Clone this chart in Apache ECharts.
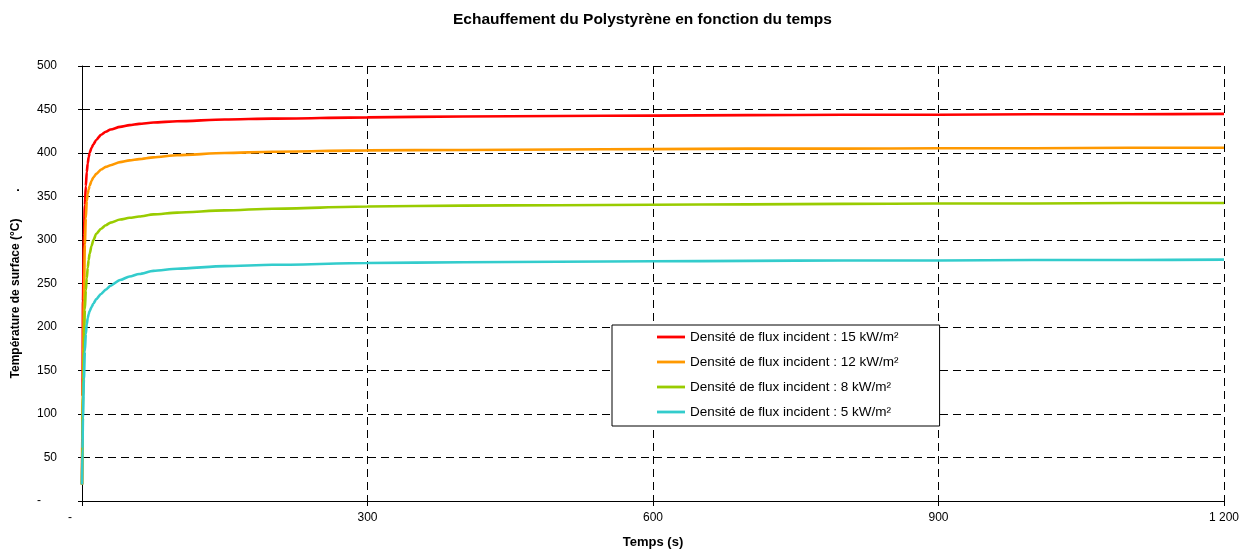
<!DOCTYPE html>
<html>
<head>
<meta charset="utf-8">
<script src="https://cdn.jsdelivr.net/npm/echarts@6/dist/echarts.min.js"></script>
<style>
html,body{margin:0;padding:0;background:#fff;}
#c{width:1242px;height:554px;}
</style>
</head>
<body>
<div id="c"></div>
<script>
var titleText = 'Echauffement du Polystyrène en fonction du temps';
var xName = 'Temps (s)';
var yName = 'Température de surface (°C)        .';
var seriesNames = [
  'Densité de flux incident : 15 kW/m²',
  'Densité de flux incident : 12 kW/m²',
  'Densité de flux incident : 8 kW/m²',
  'Densité de flux incident : 5 kW/m²'
];
var seriesColors = ['#ff0000', '#ff9900', '#99cc00', '#33cccc'];
var times = [0, 0.5, 1, 2, 3, 4, 5, 6, 7, 8, 10, 12, 15, 20, 25, 30, 40, 50, 60, 75, 100, 150, 200, 300, 400, 500, 600, 700, 800, 900, 1000, 1100, 1200];
var flux15 = [19, 120, 230, 305, 340, 362, 378, 388, 395, 400, 406, 410, 415, 421, 424.5, 427, 430, 432, 433.5, 435, 436.5, 438.5, 439.5, 441, 442, 442.5, 443, 443.5, 444, 444, 444.5, 444.5, 445];
var flux12 = [19, 80, 140, 230, 295, 325, 345, 353, 358, 362, 368, 372, 376, 381, 384, 386, 389.5, 391.5, 393, 395, 397.5, 400, 401.5, 403, 403.5, 404, 404.5, 405, 405, 405.5, 405.5, 406, 406];
var flux8 = [19, 70, 120, 175, 220, 242, 256, 268, 277, 284, 293, 300, 307, 313, 317, 320, 323.5, 325.5, 327, 329.5, 331.5, 334, 336, 338.5, 339.5, 340, 340.5, 341, 341.5, 342, 342, 342.5, 342.5];
var flux5 = [19, 60, 95, 140, 172, 192, 203, 210, 215, 218, 223, 227, 232, 238, 243, 247.5, 254, 258, 261, 264.5, 267, 270, 271.5, 273.5, 274.5, 275, 275.5, 276, 276.5, 276.5, 277, 277, 277.5];
var xTicks = [0, 300, 600, 900, 1200];
var xTickLabels = ['-', '300', '600', '900', '1 200'];
var yTicks = [0, 50, 100, 150, 200, 250, 300, 350, 400, 450, 500];
var yTickLabels = ['-', '50', '100', '150', '200', '250', '300', '350', '400', '450', '500'];

var allValues = [flux15, flux12, flux8, flux5];
function pairs(vals) {
  return times.map(function (t, i) { return [t, vals[i]]; });
}
var FONT = 'Liberation Sans, Arial, sans-serif';
var chart = echarts.init(document.getElementById('c'), null, {renderer: 'canvas'});
var series = seriesNames.map(function (n, i) {
  return {
    name: n,
    type: 'line',
    data: pairs(allValues[i]),
    symbol: 'none',
    smooth: 0.25,
    smoothMonotone: 'x',
    color: seriesColors[i],
    lineStyle: {color: seriesColors[i], width: 2.6},
    animation: false
  };
});
var yLabelFmt = function (v) {
  var i = yTicks.indexOf(v);
  var s = i >= 0 ? yTickLabels[i] : '';
  return v === 0 ? '{d|' + s + '}' : s;
};
var option = {
  animation: false,
  backgroundColor: '#ffffff',
  title: {
    text: titleText,
    left: 448,
    top: 7,
    textStyle: {fontFamily: FONT, fontSize: 15.5, fontWeight: 'bold', color: '#000'}
  },
  legend: {
    orient: 'vertical',
    left: 612,
    top: 325,
    padding: [5, 41, 7, 45],
    itemGap: 11,
    itemWidth: 28,
    itemHeight: 14,
    icon: 'path://M0,0 L28,0 L28,2.8 L0,2.8 Z',
    backgroundColor: '#ffffff',
    borderColor: '#000000',
    borderWidth: 1,
    borderRadius: 0,
    textStyle: {fontFamily: FONT, fontSize: 13.5, color: '#000'},
    data: seriesNames
  },
  grid: {left: 82, right: 16, top: 66, bottom: 51, containLabel: false},
  xAxis: {
    type: 'value',
    min: 0,
    max: 1200,
    interval: 300,
    name: xName,
    nameLocation: 'middle',
    nameGap: 35,
    nameTextStyle: {fontFamily: FONT, fontSize: 13, fontWeight: 'bold', color: '#000'},
    axisLine: {show: true, lineStyle: {color: '#000', width: 1}},
    axisTick: {show: true, length: 5, lineStyle: {color: '#000'}},
    axisLabel: {
      margin: 11,
      fontFamily: FONT, fontSize: 12, color: '#000',
      formatter: function (v) {
        var i = xTicks.indexOf(v);
        var s = i >= 0 ? xTickLabels[i] : '';
        return v === 0 ? '{d|' + s + '}' : s;
      },
      rich: {d: {padding: [0, 24, 0, 0], fontFamily: FONT, fontSize: 12, color: '#000'}}
    },
    splitLine: {show: true, lineStyle: {color: '#000', type: [8, 5], width: 1}}
  },
  yAxis: [{
    type: 'value',
    min: 0,
    max: 500,
    interval: 50,
    name: yName,
    nameLocation: 'middle',
    nameGap: 60,
    nameTextStyle: {fontFamily: FONT, fontSize: 12, fontWeight: 'bold', color: '#000'},
    axisLine: {show: true, lineStyle: {color: '#000', width: 1}},
    axisTick: {show: true, length: 4, lineStyle: {color: '#000'}},
    axisLabel: {
      margin: 25,
      fontFamily: FONT, fontSize: 12, color: '#000',
      formatter: yLabelFmt,
      rich: {d: {padding: [0, 16, 0, 0], fontFamily: FONT, fontSize: 12, color: '#000'}}
    },
    splitLine: {show: true, lineStyle: {color: '#000', type: [8, 5], width: 1}}
  }, {
    type: 'value',
    position: 'left',
    min: 0,
    max: 500,
    interval: 50,
    axisLine: {show: false},
    axisTick: {show: true, inside: true, length: 5, lineStyle: {color: '#000'}},
    axisLabel: {show: false},
    splitLine: {show: false}
  }],
  series: series
};
chart.setOption(option);
</script>
</body>
</html>
